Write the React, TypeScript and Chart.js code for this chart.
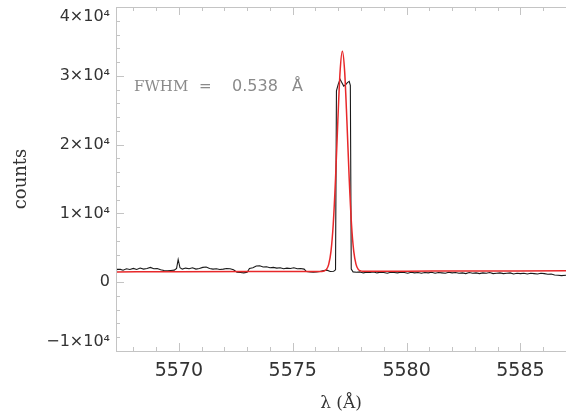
import { useEffect, useRef } from "react";
import { Chart, registerables } from "chart.js";

Chart.register(...registerables);

// ---- axis ranges & ticks ----
const xMin = 5567.24;
const xMax = 5587;
const yMin = -10000;
const yMax = 40000;
const xMajorTicks = [5570, 5575, 5580, 5585];
const xMinorStep = 1;
const yMajorTicks = [-10000, 0, 10000, 20000, 30000, 40000];
const yMinorStep = 2000;

// ---- observed spectrum (black) ----
const blackWl = [
  5567.25, 5567.4, 5567.55, 5567.7, 5567.85, 5568.0, 5568.15, 5568.3, 5568.45, 5568.6,
  5568.75, 5568.9, 5569.05, 5569.2, 5569.35, 5569.5, 5569.65, 5569.8, 5569.9, 5569.97,
  5570.05, 5570.15, 5570.3, 5570.45, 5570.6, 5570.75, 5570.9, 5571.05, 5571.2, 5571.35,
  5571.5, 5571.65, 5571.8, 5571.95, 5572.1, 5572.25, 5572.4, 5572.55, 5572.7, 5572.85,
  5573.0, 5573.1, 5573.25, 5573.4, 5573.55, 5573.7, 5573.85, 5574.0, 5574.15, 5574.3,
  5574.45, 5574.6, 5574.75, 5574.9, 5575.05, 5575.2, 5575.35, 5575.5, 5575.6, 5575.75,
  5575.9, 5576.05, 5576.2, 5576.35, 5576.5, 5576.65, 5576.8, 5576.88, 5576.92, 5577.0,
  5577.08, 5577.16, 5577.24, 5577.32, 5577.4, 5577.48, 5577.53, 5577.57, 5577.65, 5577.8,
  5577.95, 5578.1, 5578.25, 5578.4, 5578.55, 5578.7, 5578.85, 5579.0, 5579.15, 5579.3,
  5579.45, 5579.6, 5579.75, 5579.9, 5580.05, 5580.2, 5580.35, 5580.5, 5580.65, 5580.8,
  5580.95, 5581.1, 5581.25, 5581.4, 5581.55, 5581.7, 5581.85, 5582.0, 5582.15, 5582.3,
  5582.45, 5582.6, 5582.75, 5582.9, 5583.05, 5583.2, 5583.35, 5583.5, 5583.65, 5583.8,
  5583.95, 5584.1, 5584.25, 5584.4, 5584.55, 5584.7, 5584.85, 5585.0, 5585.15, 5585.3,
  5585.45, 5585.6, 5585.75, 5585.9, 5586.05, 5586.2, 5586.35, 5586.5, 5586.65, 5586.8,
  5587.0,
];
const blackCounts = [
  1800, 1900, 1750, 1950, 1850, 2000, 1850, 2050, 1900, 2000,
  2150, 1950, 2000, 1800, 1700, 1650, 1700, 1750, 2000, 3300,
  2100, 1900, 2050, 1950, 2100, 1900, 2000, 2150, 2200, 2000,
  1900, 1950, 1850, 1900, 2000, 1950, 1800, 1450, 1400, 1350,
  1450, 2000, 2100, 2350, 2400, 2200, 2250, 2100, 2150, 2050,
  2100, 1950, 2050, 2000, 2100, 1950, 2000, 1900, 1550, 1500,
  1450, 1500, 1550, 1700, 1750, 1550, 1600, 1800, 27800, 28800,
  29500, 29000, 28500, 28700, 29000, 29200, 28600, 1900, 1500, 1450,
  1500, 1350, 1450, 1400, 1500, 1350, 1450, 1400, 1300, 1450,
  1400, 1350, 1450, 1400, 1300, 1450, 1350, 1400, 1300, 1400,
  1350, 1450, 1300, 1400, 1350, 1300, 1450, 1350, 1400, 1300,
  1350, 1250, 1400, 1300, 1350, 1250, 1350, 1300, 1400, 1250,
  1300, 1350, 1250, 1300, 1350, 1200, 1300, 1250, 1300, 1200,
  1300, 1250, 1200, 1300, 1250, 1150, 1200, 1050, 1000, 950,
  1000,
];

// ---- gaussian fit (red) ----
const redWl = [
  5567.24, 5570.0, 5573.0, 5576.0, 5576.28, 5576.38, 5576.48, 5576.58, 5576.68, 5576.78,
  5576.88, 5576.98, 5577.08, 5577.18, 5577.28, 5577.38, 5577.48, 5577.58, 5577.68, 5577.78,
  5577.88, 5577.98, 5578.08, 5580.0, 5584.0, 5587.0,
];
const redCounts = [
  1500, 1520, 1540, 1560, 1570, 1630, 1860, 2590, 4480, 8460,
  15050, 23370, 30630, 33560, 30640, 23380, 15060, 8470, 4490, 2600,
  1870, 1640, 1580, 1600, 1640, 1660,
];

const fwhmWord = "FWHM";
const fwhmEq = "=";
const fwhmNumber = "0.538";
const fwhmUnit = "Å";

const yTickText = (v: number): string | string[] => {
  if (v === 0) return "0";
  const m = v / 10000;
  const s = (m < 0 ? "\u2212" + Math.abs(m) : String(m)) + "×10⁴";
  if (v === yMax) return ["", s];
  if (v === yMin) return [s, ""];
  return s;
};

const framePlugin = {
  id: "frameTicks",
  afterDatasetsDraw(chart: any) {
    const { ctx, chartArea } = chart;
    const { left, top, right, bottom } = chartArea;
    const xs = chart.scales.x;
    const ys = chart.scales.y;
    ctx.save();
    ctx.strokeStyle = "#c4c4c4";
    ctx.lineWidth = 1;
    ctx.beginPath();
    ctx.moveTo(left + 0.5, top);
    ctx.lineTo(left + 0.5, bottom);
    ctx.moveTo(left, bottom + 0.5);
    ctx.lineTo(right, bottom + 0.5);
    ctx.moveTo(left, top + 0.5);
    ctx.lineTo(right, top + 0.5);
    // x ticks (bottom & top, inward)
    for (let v = Math.ceil(xMin); v <= xMax + 1e-9; v += xMinorStep) {
      const px = Math.round(xs.getPixelForValue(v)) + 0.5;
      const major = xMajorTicks.includes(v);
      const len = major ? 8 : 4;
      ctx.moveTo(px, bottom);
      ctx.lineTo(px, bottom - len);
      ctx.moveTo(px, top);
      ctx.lineTo(px, top + len);
    }
    // y ticks (left, inward)
    for (let v = yMin; v <= yMax + 1e-9; v += yMinorStep) {
      const py = Math.round(ys.getPixelForValue(v)) + 0.5;
      const major = yMajorTicks.includes(v);
      const len = major ? 8 : 4;
      ctx.moveTo(left, py);
      ctx.lineTo(left + len, py);
    }
    ctx.stroke();

    // FWHM annotation
    ctx.fillStyle = "#8a8a8a";
    ctx.textBaseline = "middle";
    ctx.textAlign = "left";
    ctx.font = '15px "DejaVu Serif"';
    ctx.fillText(fwhmWord, left + 18, 87);
    ctx.fillText(fwhmEq, left + 83, 87);
    ctx.font = '16px "DejaVu Sans"';
    ctx.fillText(fwhmNumber, left + 116, 87);
    ctx.fillText(fwhmUnit, left + 176, 87);
    ctx.restore();
  },
};

export default function App() {
  const ref = useRef<HTMLCanvasElement>(null);

  useEffect(() => {
    if (!ref.current) return;
    const chart = new Chart(ref.current, {
      type: "line",
      data: {
        datasets: [
          {
            label: "fit",
            data: redWl.map((x, i) => ({ x, y: redCounts[i] })),
            borderColor: "#e8282a",
            borderWidth: 1.5,
            pointRadius: 0,
            cubicInterpolationMode: "monotone",
            fill: false,
          },
          {
            label: "observed",
            data: blackWl.map((x, i) => ({ x, y: blackCounts[i] })),
            borderColor: "#1a1a1a",
            borderWidth: 1.1,
            pointRadius: 0,
            tension: 0,
            fill: false,
          },
        ],
      },
      options: {
        animation: false,
        responsive: false,
        layout: { padding: { top: 7, right: 0, left: 0, bottom: 0 } },
        plugins: {
          legend: { display: false },
          tooltip: { enabled: false },
        },
        scales: {
          x: {
            type: "linear",
            position: "bottom",
            min: xMin,
            max: xMax,
            grid: { display: false, drawTicks: false },
            border: { display: false },
            ticks: {
              font: { family: "DejaVu Sans", size: 19 },
              color: "#333",
              padding: 9,
              maxRotation: 0,
              autoSkip: false,
              callback: (v: any) => String(v),
            },
            afterBuildTicks: (s: any) => {
              s.ticks = xMajorTicks.map((value) => ({ value }));
            },
            afterFit: (s: any) => {
              s.height = 63;
              s.paddingLeft = 0;
              s.paddingRight = 0;
            },
            title: {
              display: true,
              text: "λ (Å)",
              font: { family: "DejaVu Serif", size: 17 },
              color: "#333",
              padding: { top: 12, bottom: 0 },
            },
          },
          y: {
            type: "linear",
            position: "left",
            min: yMin,
            max: yMax,
            grid: { display: false, drawTicks: false },
            border: { display: false },
            ticks: {
              font: { family: "DejaVu Sans", size: 16 },
              color: "#333",
              padding: 6,
              autoSkip: false,
              callback: (v: any) => yTickText(Number(v)),
            },
            afterBuildTicks: (s: any) => {
              s.ticks = yMajorTicks.map((value) => ({ value }));
            },
            afterFit: (s: any) => {
              s.width = 116;
              s.paddingTop = 0;
              s.paddingBottom = 0;
            },
            title: {
              display: true,
              text: "counts",
              font: { family: "DejaVu Serif", size: 18 },
              color: "#333",
              padding: { top: 11, bottom: 0 },
            },
          },
        },
      },
      plugins: [framePlugin],
    } as any);
    return () => chart.destroy();
  }, []);

  return (
    <div style={{ position: "fixed", left: 0, top: 0, width: 566, height: 414, background: "#fff" }}>
      <canvas ref={ref} width={566} height={414} style={{ display: "block" }} />
    </div>
  );
}
